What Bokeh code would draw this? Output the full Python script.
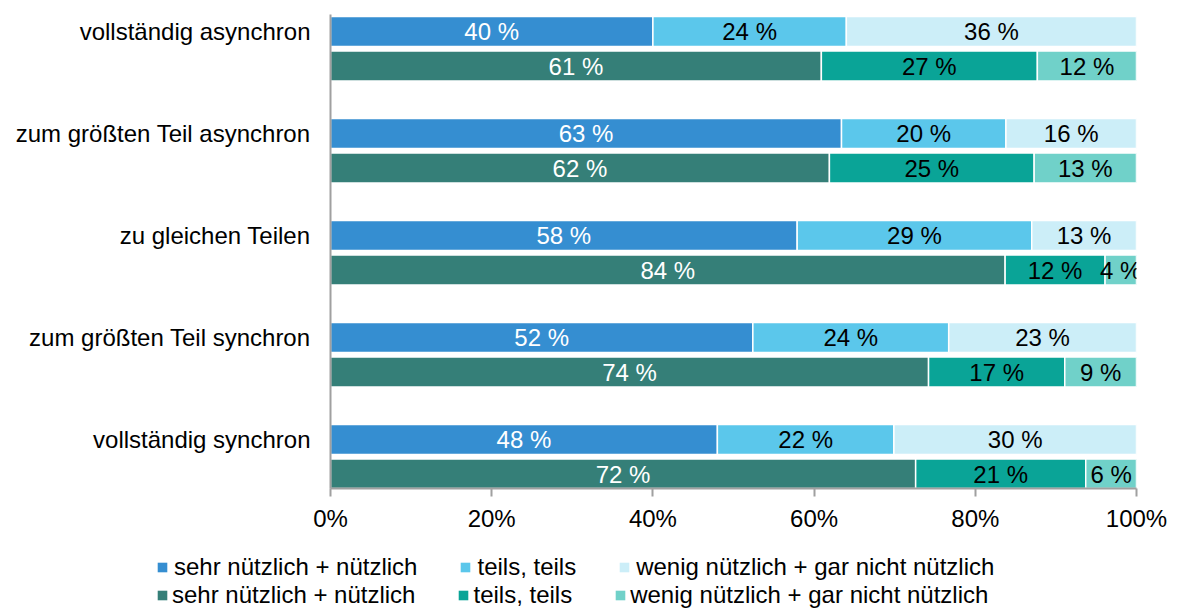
from bokeh.plotting import figure
from bokeh.models import ColumnDataSource, Range1d, FixedTicker, Legend, LegendItem
from bokeh.embed import file_html
from bokeh.resources import INLINE
from bokeh.core.properties import value

# ---------------- data ----------------
categories = [
    "vollständig asynchron",
    "zum größten Teil asynchron",
    "zu gleichen Teilen",
    "zum größten Teil synchron",
    "vollständig synchron",
]
# first series (blue): sehr nützlich + nützlich / teils, teils / wenig + gar nicht
a_high = [40.0, 63.4, 57.9, 52.4, 48.0]
a_mid = [24.0, 20.4, 29.1, 24.3, 21.9]
a_low = [36.0, 16.2, 13.0, 23.3, 30.1]
a_high_lbl = [40, 63, 58, 52, 48]
a_mid_lbl = [24, 20, 29, 24, 22]
a_low_lbl = [36, 16, 13, 23, 30]
# second series (green)
b_high = [60.9, 61.9, 83.7, 74.2, 72.6]
b_mid = [26.8, 25.4, 12.4, 16.9, 21.1]
b_low = [12.3, 12.7, 3.9, 8.9, 6.3]
b_high_lbl = [61, 62, 84, 74, 72]
b_mid_lbl = [27, 25, 12, 17, 21]
b_low_lbl = [12, 13, 4, 9, 6]

legend_labels = ["sehr nützlich + nützlich", "teils, teils", "wenig nützlich + gar nicht nützlich"]
x_ticks = [0, 20, 40, 60, 80, 100]
x_tick_labels = ["0%", "20%", "40%", "60%", "80%", "100%"]

colors_a = ["#358ED1", "#5BC7EB", "#CCEEF8"]
colors_b = ["#357F78", "#0AA497", "#70D1C9"]
label_colors = ["white", "black", "black"]

FONT = "Liberation Sans"
GRAY = "#A0A0A0"

n = len(categories)
ya = [float(n - 1 - i) for i in range(n)]
GAP = 0.338
yb = [y - GAP for y in ya]
H = 0.294

src_a = ColumnDataSource(dict(y=ya, h=a_high, m=a_mid, l=a_low))
src_b = ColumnDataSource(dict(y=yb, h=b_high, m=b_mid, l=b_low))

p = figure(
    width=1178, height=540, output_backend="svg", toolbar_location=None,
    x_range=Range1d(0, 100), y_range=Range1d(-0.48, 4.167),
    min_border_left=330, min_border_right=42, min_border_top=14, min_border_bottom=52,
)
p.outline_line_color = None
p.xgrid.visible = False
p.ygrid.visible = False

p.hbar_stack(["h", "m", "l"], y="y", height=H, fill_color=colors_a,
             line_color="white", line_width=1.5, source=src_a)
p.hbar_stack(["h", "m", "l"], y="y", height=H, fill_color=colors_b,
             line_color="white", line_width=1.5, source=src_b)

# segment labels
def seg_labels(vals, lbls, ys):
    xs, yy, tx, cs = [], [], [], []
    for i in range(n):
        start = 0.0
        for k in range(3):
            v = vals[k][i]
            xs.append(start + v / 2.0)
            yy.append(ys[i])
            tx.append(f"{lbls[k][i]} %")
            cs.append(label_colors[k])
            start += v
    return ColumnDataSource(dict(x=xs, y=yy, t=tx, c=cs))

for s in (seg_labels([a_high, a_mid, a_low], [a_high_lbl, a_mid_lbl, a_low_lbl], ya),
          seg_labels([b_high, b_mid, b_low], [b_high_lbl, b_mid_lbl, b_low_lbl], yb)):
    p.text(x="x", y="y", text="t", text_color="c", source=s,
           text_align="center", text_baseline="middle",
           text_font=value(FONT), text_font_size=value("24px"))

# axes
xa = p.xaxis[0]
xa.ticker = FixedTicker(ticks=x_ticks)
xa.major_label_overrides = {t: l for t, l in zip(x_ticks, x_tick_labels)}
xa.axis_line_color = GRAY
xa.axis_line_width = 2
xa.major_tick_line_color = GRAY
xa.major_tick_line_width = 2
xa.major_tick_out = 8
xa.major_tick_in = 0
xa.minor_tick_line_color = None
xa.major_label_standoff = 8
xa.major_label_text_font = FONT
xa.major_label_text_font_size = "24px"
xa.major_label_text_color = "black"

yax = p.yaxis[0]
yax.ticker = FixedTicker(ticks=ya)
yax.major_label_overrides = {y: c for y, c in zip(ya, categories)}
yax.axis_line_color = GRAY
yax.axis_line_width = 2
yax.major_tick_line_color = None
yax.minor_tick_line_color = None
yax.major_tick_out = 0
yax.major_tick_in = 0
yax.major_label_standoff = 20
yax.major_label_text_font = FONT
yax.major_label_text_font_size = "24px"
yax.major_label_text_color = "black"

# ---------------- legend strip (separate root, no frame alignment) ----------------
q = figure(
    width=1178, height=68, output_backend="svg", toolbar_location=None,
    x_range=Range1d(0, 1), y_range=Range1d(0, 1), min_border=0,
    x_axis_location=None, y_axis_location=None,
)
q.xgrid.visible = False
q.ygrid.visible = False
q.outline_line_color = None

nan = float("nan")

def swatches(colors):
    # placeholder renderers (no visible mark) that only feed the legend swatches
    return [q.hbar(y=[nan], right=[nan], height=0.1, fill_color=c, line_color=None)
            for c in colors]

sw_a = swatches(colors_a)
sw_b = swatches(colors_b)

def make_legend(renderers, loc, standoff):
    return Legend(
        items=[LegendItem(label=lbl, renderers=[r]) for lbl, r in zip(legend_labels, renderers)],
        orientation="horizontal", location=loc,
        glyph_width=12, glyph_height=12, label_standoff=standoff, spacing=42,
        padding=0, margin=0, border_line_color=None, background_fill_alpha=0,
        label_text_font=FONT, label_text_font_size="24px", label_text_color="black",
    )

q.add_layout(make_legend(sw_a, (156, 27), 6))
q.add_layout(make_legend(sw_b, (156, -1), 4))

open("out.html", "w").write(file_html([p, q], INLINE))
